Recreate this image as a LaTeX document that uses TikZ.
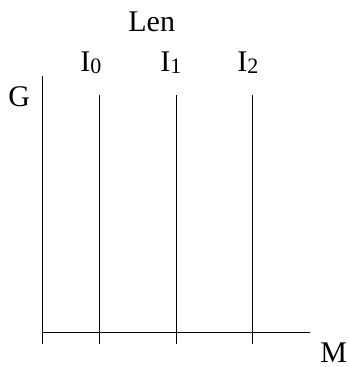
\documentclass[tikz,border=0pt]{standalone}
\usepackage{fontspec}
\setmainfont{Liberation Serif}
\usepackage{tikz}
\usetikzlibrary{positioning}

\newcommand{\lensub}[2]{#1\raisebox{-2pt}{\fontsize{22}{22}\selectfont #2}}

\begin{document}
\begin{tikzpicture}[x=1pt, y=1pt, line width=0.8pt,
    lbl/.style={anchor=base west, inner sep=0pt, font=\fontsize{30}{32}\selectfont}]
    \useasboundingbox (0,0) rectangle (349,367);
    % Trục tọa độ
    \coordinate (O) at (42,34.5);
    \coordinate (Gtop) at (42,291);
    \coordinate (Mend) at (310,34.5);
    \draw (42,23) -- (Gtop);
    \draw (O) -- (Mend);
    \node[lbl] (G) at (8,260) {G};
    \node[lbl] (M) at (320,5) {M};
    
    % Các đường thẳng đứng
    \draw (99,23) -- (99,272);
    \draw (176,23) -- (176,272);
    \draw (252,23) -- (252,272);
    
    % Nhãn
    \node[lbl] (len) at (128,335) {Len};
    \node[lbl] (i0) at (80,295) {\lensub{I}{0}};
    \node[lbl] (i1) at (160,295) {\lensub{I}{1}};
    \node[lbl] (i2) at (237,295) {\lensub{I}{2}};
\end{tikzpicture}
\end{document}
